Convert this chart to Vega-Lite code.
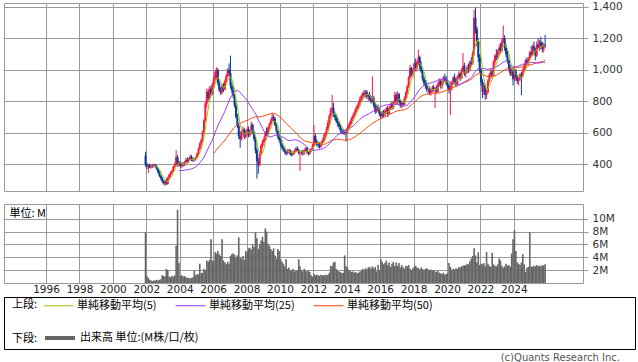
{
"$schema": "https://vega.github.io/schema/vega-lite/v6.json",
"background": "white",
"padding": {"left": 3, "top": 1, "right": 0, "bottom": 0},
"config": {
 "view": {"stroke": "#999999", "strokeWidth": 1},
 "axis": {"gridColor": "#999999", "gridWidth": 1, "gridOpacity": 1, "tickColor": "#999999", "tickOpacity": 1, "labelColor": "#333333", "labelFont": "DejaVu Sans", "labelFontSize": 10.5}
},
"datasets": {"m": [
{"d":"2001-12-15","o":455,"h":480,"l":385,"c":400,"v":7.9},
{"d":"2002-01-15","o":400,"h":410,"l":370,"c":385,"v":1.1},
{"d":"2002-02-15","o":385,"h":400,"l":345,"c":395,"v":0.8},
{"d":"2002-03-15","o":395,"h":405,"l":375,"c":380,"v":0.5},
{"d":"2002-04-15","o":380,"h":400,"l":372,"c":392,"v":0.4},
{"d":"2002-05-15","o":392,"h":400,"l":378,"c":385,"v":0.3},
{"d":"2002-06-15","o":385,"h":405,"l":380,"c":398,"v":0.4},
{"d":"2002-07-15","o":398,"h":402,"l":380,"c":388,"v":0.4},
{"d":"2002-08-15","o":388,"h":395,"l":365,"c":372,"v":0.5},
{"d":"2002-09-15","o":372,"h":378,"l":340,"c":350,"v":0.4},
{"d":"2002-10-15","o":350,"h":358,"l":318,"c":328,"v":0.5},
{"d":"2002-11-15","o":328,"h":335,"l":300,"c":312,"v":0.6},
{"d":"2002-12-15","o":312,"h":320,"l":280,"c":292,"v":1.2},
{"d":"2003-01-15","o":292,"h":300,"l":270,"c":280,"v":1.1},
{"d":"2003-02-15","o":280,"h":300,"l":262,"c":295,"v":1.0},
{"d":"2003-03-15","o":295,"h":310,"l":268,"c":275,"v":2.2},
{"d":"2003-04-15","o":275,"h":320,"l":270,"c":315,"v":2.0},
{"d":"2003-05-15","o":315,"h":340,"l":305,"c":332,"v":1.0},
{"d":"2003-06-15","o":332,"h":355,"l":320,"c":348,"v":0.9},
{"d":"2003-07-15","o":348,"h":365,"l":335,"c":358,"v":1.1},
{"d":"2003-08-15","o":358,"h":390,"l":350,"c":385,"v":1.0},
{"d":"2003-09-15","o":385,"h":410,"l":378,"c":400,"v":1.2},
{"d":"2003-10-15","o":400,"h":490,"l":390,"c":445,"v":5.8},
{"d":"2003-11-15","o":445,"h":460,"l":385,"c":400,"v":11.4},
{"d":"2003-12-15","o":400,"h":425,"l":385,"c":415,"v":3.1},
{"d":"2004-01-15","o":415,"h":420,"l":380,"c":390,"v":1.1},
{"d":"2004-02-15","o":390,"h":405,"l":375,"c":398,"v":1.2},
{"d":"2004-03-15","o":398,"h":415,"l":385,"c":392,"v":1.0},
{"d":"2004-04-15","o":392,"h":420,"l":388,"c":412,"v":1.1},
{"d":"2004-05-15","o":412,"h":440,"l":405,"c":428,"v":0.9},
{"d":"2004-06-15","o":428,"h":445,"l":405,"c":418,"v":0.8},
{"d":"2004-07-15","o":418,"h":440,"l":410,"c":435,"v":0.8},
{"d":"2004-08-15","o":435,"h":462,"l":425,"c":448,"v":0.7},
{"d":"2004-09-15","o":448,"h":458,"l":420,"c":430,"v":0.8},
{"d":"2004-10-15","o":430,"h":445,"l":415,"c":425,"v":0.9},
{"d":"2004-11-15","o":425,"h":440,"l":418,"c":432,"v":1.9},
{"d":"2004-12-15","o":432,"h":450,"l":425,"c":442,"v":1.2},
{"d":"2005-01-15","o":442,"h":475,"l":435,"c":468,"v":1.4},
{"d":"2005-02-15","o":468,"h":505,"l":460,"c":498,"v":1.3},
{"d":"2005-03-15","o":498,"h":540,"l":490,"c":530,"v":3.0},
{"d":"2005-04-15","o":530,"h":565,"l":505,"c":552,"v":1.5},
{"d":"2005-05-15","o":552,"h":615,"l":540,"c":605,"v":1.6},
{"d":"2005-06-15","o":605,"h":690,"l":595,"c":680,"v":2.2},
{"d":"2005-07-15","o":680,"h":800,"l":670,"c":785,"v":2.0},
{"d":"2005-08-15","o":785,"h":880,"l":760,"c":860,"v":3.5},
{"d":"2005-09-15","o":860,"h":875,"l":800,"c":820,"v":3.3},
{"d":"2005-10-15","o":820,"h":895,"l":810,"c":880,"v":3.6},
{"d":"2005-11-15","o":880,"h":900,"l":830,"c":845,"v":6.8},
{"d":"2005-12-15","o":845,"h":920,"l":840,"c":905,"v":3.5},
{"d":"2006-01-15","o":905,"h":960,"l":890,"c":945,"v":3.4},
{"d":"2006-02-15","o":945,"h":1000,"l":930,"c":985,"v":4.8},
{"d":"2006-03-15","o":985,"h":1015,"l":940,"c":1000,"v":4.6},
{"d":"2006-04-15","o":1000,"h":1010,"l":900,"c":915,"v":5.0},
{"d":"2006-05-15","o":915,"h":930,"l":860,"c":870,"v":4.5},
{"d":"2006-06-15","o":870,"h":890,"l":840,"c":855,"v":4.2},
{"d":"2006-07-15","o":855,"h":910,"l":845,"c":900,"v":6.8},
{"d":"2006-08-15","o":900,"h":915,"l":860,"c":875,"v":3.5},
{"d":"2006-09-15","o":875,"h":940,"l":870,"c":930,"v":3.2},
{"d":"2006-10-15","o":930,"h":975,"l":920,"c":960,"v":2.9},
{"d":"2006-11-15","o":960,"h":1010,"l":950,"c":1000,"v":3.3},
{"d":"2006-12-15","o":1000,"h":1040,"l":960,"c":980,"v":3.0},
{"d":"2007-01-15","o":980,"h":1090,"l":880,"c":900,"v":4.2},
{"d":"2007-02-15","o":900,"h":920,"l":850,"c":870,"v":4.5},
{"d":"2007-03-15","o":870,"h":890,"l":820,"c":835,"v":4.6},
{"d":"2007-04-15","o":835,"h":845,"l":760,"c":775,"v":4.4},
{"d":"2007-05-15","o":775,"h":790,"l":690,"c":700,"v":4.0},
{"d":"2007-06-15","o":700,"h":720,"l":630,"c":645,"v":4.3},
{"d":"2007-07-15","o":645,"h":660,"l":560,"c":580,"v":7.1},
{"d":"2007-08-15","o":580,"h":610,"l":505,"c":560,"v":4.0},
{"d":"2007-09-15","o":560,"h":620,"l":550,"c":605,"v":3.8},
{"d":"2007-10-15","o":605,"h":640,"l":585,"c":620,"v":4.2},
{"d":"2007-11-15","o":620,"h":630,"l":560,"c":575,"v":3.6},
{"d":"2007-12-15","o":575,"h":615,"l":565,"c":600,"v":5.0},
{"d":"2008-01-15","o":600,"h":635,"l":590,"c":622,"v":4.8},
{"d":"2008-02-15","o":622,"h":640,"l":570,"c":585,"v":5.4},
{"d":"2008-03-15","o":585,"h":620,"l":575,"c":605,"v":5.5},
{"d":"2008-04-15","o":605,"h":670,"l":600,"c":650,"v":5.2},
{"d":"2008-05-15","o":650,"h":660,"l":590,"c":605,"v":6.0},
{"d":"2008-06-15","o":605,"h":615,"l":545,"c":560,"v":5.6},
{"d":"2008-07-15","o":560,"h":575,"l":470,"c":490,"v":7.9},
{"d":"2008-08-15","o":490,"h":505,"l":310,"c":420,"v":7.0},
{"d":"2008-09-15","o":420,"h":440,"l":340,"c":395,"v":5.3},
{"d":"2008-10-15","o":395,"h":480,"l":385,"c":470,"v":6.0},
{"d":"2008-11-15","o":470,"h":530,"l":455,"c":520,"v":6.6},
{"d":"2008-12-15","o":520,"h":555,"l":505,"c":540,"v":7.2},
{"d":"2009-01-15","o":540,"h":575,"l":520,"c":560,"v":6.4},
{"d":"2009-02-15","o":560,"h":610,"l":550,"c":600,"v":8.5},
{"d":"2009-03-15","o":600,"h":635,"l":580,"c":590,"v":8.0},
{"d":"2009-04-15","o":590,"h":640,"l":585,"c":630,"v":6.1},
{"d":"2009-05-15","o":630,"h":665,"l":620,"c":655,"v":5.8},
{"d":"2009-06-15","o":655,"h":690,"l":645,"c":680,"v":5.3},
{"d":"2009-07-15","o":680,"h":728,"l":670,"c":700,"v":5.0},
{"d":"2009-08-15","o":700,"h":715,"l":670,"c":690,"v":5.4},
{"d":"2009-09-15","o":690,"h":700,"l":640,"c":650,"v":4.3},
{"d":"2009-10-15","o":650,"h":660,"l":600,"c":610,"v":3.8},
{"d":"2009-11-15","o":610,"h":620,"l":560,"c":575,"v":5.3},
{"d":"2009-12-15","o":575,"h":590,"l":540,"c":555,"v":5.0},
{"d":"2010-01-15","o":555,"h":565,"l":515,"c":525,"v":3.7},
{"d":"2010-02-15","o":525,"h":535,"l":495,"c":505,"v":3.3},
{"d":"2010-03-15","o":505,"h":515,"l":480,"c":490,"v":3.0},
{"d":"2010-04-15","o":490,"h":505,"l":465,"c":478,"v":2.6},
{"d":"2010-05-15","o":478,"h":490,"l":455,"c":468,"v":3.7},
{"d":"2010-06-15","o":468,"h":495,"l":462,"c":485,"v":2.2},
{"d":"2010-07-15","o":485,"h":500,"l":470,"c":490,"v":2.4},
{"d":"2010-08-15","o":490,"h":495,"l":455,"c":465,"v":2.0},
{"d":"2010-09-15","o":465,"h":480,"l":450,"c":460,"v":1.9},
{"d":"2010-10-15","o":460,"h":485,"l":455,"c":475,"v":2.2},
{"d":"2010-11-15","o":475,"h":495,"l":465,"c":485,"v":1.8},
{"d":"2010-12-15","o":485,"h":510,"l":478,"c":500,"v":2.0},
{"d":"2011-01-15","o":500,"h":515,"l":482,"c":490,"v":1.9},
{"d":"2011-02-15","o":490,"h":500,"l":462,"c":470,"v":3.7},
{"d":"2011-03-15","o":470,"h":482,"l":358,"c":475,"v":2.6},
{"d":"2011-04-15","o":475,"h":490,"l":460,"c":480,"v":2.0},
{"d":"2011-05-15","o":480,"h":490,"l":455,"c":468,"v":1.8},
{"d":"2011-06-15","o":468,"h":495,"l":460,"c":490,"v":2.2},
{"d":"2011-07-15","o":490,"h":510,"l":480,"c":502,"v":1.9},
{"d":"2011-08-15","o":502,"h":508,"l":465,"c":478,"v":1.8},
{"d":"2011-09-15","o":478,"h":485,"l":455,"c":468,"v":2.0},
{"d":"2011-10-15","o":468,"h":495,"l":460,"c":490,"v":1.7},
{"d":"2011-11-15","o":490,"h":505,"l":478,"c":495,"v":1.2},
{"d":"2011-12-15","o":495,"h":530,"l":488,"c":520,"v":1.0},
{"d":"2012-01-15","o":520,"h":650,"l":515,"c":580,"v":1.4},
{"d":"2012-02-15","o":580,"h":595,"l":535,"c":545,"v":1.2},
{"d":"2012-03-15","o":545,"h":560,"l":515,"c":528,"v":1.3},
{"d":"2012-04-15","o":528,"h":545,"l":505,"c":520,"v":1.2},
{"d":"2012-05-15","o":520,"h":540,"l":500,"c":512,"v":1.1},
{"d":"2012-06-15","o":512,"h":545,"l":505,"c":535,"v":1.3},
{"d":"2012-07-15","o":535,"h":560,"l":525,"c":550,"v":1.2},
{"d":"2012-08-15","o":550,"h":590,"l":540,"c":575,"v":1.2},
{"d":"2012-09-15","o":575,"h":605,"l":560,"c":595,"v":1.3},
{"d":"2012-10-15","o":595,"h":640,"l":585,"c":625,"v":1.2},
{"d":"2012-11-15","o":625,"h":680,"l":615,"c":665,"v":1.3},
{"d":"2012-12-15","o":665,"h":720,"l":650,"c":705,"v":1.6},
{"d":"2013-01-15","o":705,"h":760,"l":690,"c":745,"v":2.7},
{"d":"2013-02-15","o":745,"h":840,"l":730,"c":760,"v":2.6},
{"d":"2013-03-15","o":760,"h":790,"l":700,"c":715,"v":3.2},
{"d":"2013-04-15","o":715,"h":735,"l":680,"c":700,"v":3.3},
{"d":"2013-05-15","o":700,"h":720,"l":660,"c":675,"v":2.2},
{"d":"2013-06-15","o":675,"h":690,"l":640,"c":660,"v":1.9},
{"d":"2013-07-15","o":660,"h":670,"l":625,"c":640,"v":1.8},
{"d":"2013-08-15","o":640,"h":650,"l":600,"c":615,"v":1.7},
{"d":"2013-09-15","o":615,"h":630,"l":590,"c":610,"v":1.5},
{"d":"2013-10-15","o":610,"h":625,"l":590,"c":600,"v":1.6},
{"d":"2013-11-15","o":600,"h":620,"l":585,"c":610,"v":4.3},
{"d":"2013-12-15","o":610,"h":625,"l":545,"c":600,"v":2.6},
{"d":"2014-01-15","o":600,"h":640,"l":595,"c":630,"v":2.4},
{"d":"2014-02-15","o":630,"h":660,"l":620,"c":650,"v":2.0},
{"d":"2014-03-15","o":650,"h":680,"l":640,"c":670,"v":1.9},
{"d":"2014-04-15","o":670,"h":700,"l":655,"c":690,"v":1.7},
{"d":"2014-05-15","o":690,"h":720,"l":675,"c":710,"v":1.8},
{"d":"2014-06-15","o":710,"h":740,"l":700,"c":730,"v":1.6},
{"d":"2014-07-15","o":730,"h":760,"l":715,"c":750,"v":1.7},
{"d":"2014-08-15","o":750,"h":780,"l":735,"c":770,"v":1.5},
{"d":"2014-09-15","o":770,"h":800,"l":755,"c":790,"v":1.6},
{"d":"2014-10-15","o":790,"h":830,"l":770,"c":815,"v":1.8},
{"d":"2014-11-15","o":815,"h":845,"l":800,"c":835,"v":1.9},
{"d":"2014-12-15","o":835,"h":860,"l":810,"c":850,"v":2.2},
{"d":"2015-01-15","o":850,"h":873,"l":820,"c":840,"v":2.0},
{"d":"2015-02-15","o":840,"h":870,"l":825,"c":860,"v":2.3},
{"d":"2015-03-15","o":860,"h":872,"l":815,"c":830,"v":2.1},
{"d":"2015-04-15","o":830,"h":850,"l":800,"c":840,"v":2.4},
{"d":"2015-05-15","o":840,"h":860,"l":805,"c":815,"v":2.5},
{"d":"2015-06-15","o":815,"h":835,"l":785,"c":800,"v":2.2},
{"d":"2015-07-15","o":800,"h":958,"l":790,"c":820,"v":2.6},
{"d":"2015-08-15","o":820,"h":835,"l":760,"c":775,"v":2.3},
{"d":"2015-09-15","o":775,"h":790,"l":720,"c":735,"v":2.5},
{"d":"2015-10-15","o":735,"h":775,"l":725,"c":765,"v":1.8},
{"d":"2015-11-15","o":765,"h":780,"l":735,"c":745,"v":2.8},
{"d":"2015-12-15","o":745,"h":760,"l":705,"c":720,"v":2.0},
{"d":"2016-01-15","o":720,"h":735,"l":690,"c":705,"v":3.7},
{"d":"2016-02-15","o":705,"h":740,"l":695,"c":730,"v":3.3},
{"d":"2016-03-15","o":730,"h":745,"l":700,"c":715,"v":2.9},
{"d":"2016-04-15","o":715,"h":750,"l":705,"c":740,"v":3.1},
{"d":"2016-05-15","o":740,"h":765,"l":720,"c":755,"v":3.5},
{"d":"2016-06-15","o":755,"h":770,"l":700,"c":720,"v":2.8},
{"d":"2016-07-15","o":720,"h":770,"l":715,"c":760,"v":3.2},
{"d":"2016-08-15","o":760,"h":790,"l":745,"c":780,"v":2.5},
{"d":"2016-09-15","o":780,"h":800,"l":745,"c":760,"v":3.0},
{"d":"2016-10-15","o":760,"h":800,"l":750,"c":790,"v":3.3},
{"d":"2016-11-15","o":790,"h":860,"l":780,"c":840,"v":2.6},
{"d":"2016-12-15","o":840,"h":855,"l":780,"c":795,"v":3.2},
{"d":"2017-01-15","o":795,"h":862,"l":780,"c":845,"v":2.7},
{"d":"2017-02-15","o":845,"h":855,"l":790,"c":800,"v":3.1},
{"d":"2017-03-15","o":800,"h":815,"l":760,"c":775,"v":2.4},
{"d":"2017-04-15","o":775,"h":800,"l":755,"c":790,"v":2.8},
{"d":"2017-05-15","o":790,"h":805,"l":765,"c":780,"v":2.5},
{"d":"2017-06-15","o":780,"h":830,"l":775,"c":820,"v":2.2},
{"d":"2017-07-15","o":820,"h":865,"l":810,"c":855,"v":2.7},
{"d":"2017-08-15","o":855,"h":905,"l":845,"c":895,"v":2.6},
{"d":"2017-09-15","o":895,"h":960,"l":885,"c":950,"v":2.8},
{"d":"2017-10-15","o":950,"h":1032,"l":940,"c":1010,"v":2.2},
{"d":"2017-11-15","o":1010,"h":1020,"l":960,"c":975,"v":2.0},
{"d":"2017-12-15","o":975,"h":1010,"l":950,"c":1000,"v":2.3},
{"d":"2018-01-15","o":1000,"h":1050,"l":985,"c":1040,"v":2.5},
{"d":"2018-02-15","o":1040,"h":1070,"l":990,"c":1010,"v":2.7},
{"d":"2018-03-15","o":1010,"h":1060,"l":990,"c":1050,"v":2.4},
{"d":"2018-04-15","o":1050,"h":1127,"l":1030,"c":1080,"v":2.3},
{"d":"2018-05-15","o":1080,"h":1090,"l":1000,"c":1020,"v":2.1},
{"d":"2018-06-15","o":1020,"h":1053,"l":980,"c":990,"v":2.4},
{"d":"2018-07-15","o":990,"h":1000,"l":930,"c":945,"v":2.2},
{"d":"2018-08-15","o":945,"h":960,"l":900,"c":915,"v":2.0},
{"d":"2018-09-15","o":915,"h":935,"l":880,"c":900,"v":2.2},
{"d":"2018-10-15","o":900,"h":920,"l":860,"c":875,"v":2.3},
{"d":"2018-11-15","o":875,"h":890,"l":845,"c":880,"v":2.1},
{"d":"2018-12-15","o":880,"h":895,"l":841,"c":855,"v":2.0},
{"d":"2019-01-15","o":855,"h":880,"l":835,"c":870,"v":2.1},
{"d":"2019-02-15","o":870,"h":900,"l":855,"c":890,"v":1.9},
{"d":"2019-03-15","o":890,"h":905,"l":860,"c":875,"v":2.0},
{"d":"2019-04-15","o":875,"h":890,"l":757,"c":880,"v":1.8},
{"d":"2019-05-15","o":880,"h":900,"l":850,"c":860,"v":1.7},
{"d":"2019-06-15","o":860,"h":920,"l":855,"c":910,"v":1.9},
{"d":"2019-07-15","o":910,"h":945,"l":895,"c":930,"v":1.6},
{"d":"2019-08-15","o":930,"h":940,"l":880,"c":895,"v":1.5},
{"d":"2019-09-15","o":895,"h":930,"l":880,"c":920,"v":1.4},
{"d":"2019-10-15","o":920,"h":960,"l":905,"c":950,"v":1.6},
{"d":"2019-11-15","o":950,"h":975,"l":925,"c":940,"v":1.3},
{"d":"2019-12-15","o":940,"h":960,"l":900,"c":915,"v":1.4},
{"d":"2020-01-15","o":915,"h":935,"l":880,"c":900,"v":1.5},
{"d":"2020-02-15","o":900,"h":910,"l":850,"c":870,"v":3.1},
{"d":"2020-03-15","o":870,"h":920,"l":714,"c":890,"v":2.5},
{"d":"2020-04-15","o":890,"h":930,"l":870,"c":920,"v":2.0},
{"d":"2020-05-15","o":920,"h":960,"l":905,"c":950,"v":2.2},
{"d":"2020-06-15","o":950,"h":975,"l":915,"c":930,"v":2.1},
{"d":"2020-07-15","o":930,"h":950,"l":890,"c":910,"v":2.3},
{"d":"2020-08-15","o":910,"h":965,"l":905,"c":955,"v":2.2},
{"d":"2020-09-15","o":955,"h":990,"l":940,"c":975,"v":2.5},
{"d":"2020-10-15","o":975,"h":985,"l":930,"c":945,"v":2.4},
{"d":"2020-11-15","o":945,"h":1010,"l":940,"c":1000,"v":2.6},
{"d":"2020-12-15","o":1000,"h":1106,"l":985,"c":1025,"v":2.7},
{"d":"2021-01-15","o":1025,"h":1045,"l":960,"c":975,"v":2.8},
{"d":"2021-02-15","o":975,"h":1000,"l":950,"c":990,"v":2.7},
{"d":"2021-03-15","o":990,"h":1030,"l":975,"c":1015,"v":3.0},
{"d":"2021-04-15","o":1015,"h":1040,"l":980,"c":1000,"v":2.9},
{"d":"2021-05-15","o":1000,"h":1060,"l":990,"c":1050,"v":3.4},
{"d":"2021-06-15","o":1050,"h":1080,"l":1020,"c":1040,"v":3.8},
{"d":"2021-07-15","o":1040,"h":1120,"l":1030,"c":1100,"v":4.2},
{"d":"2021-08-15","o":1100,"h":1380,"l":1090,"c":1330,"v":5.4},
{"d":"2021-09-15","o":1330,"h":1396,"l":1230,"c":1260,"v":4.3},
{"d":"2021-10-15","o":1260,"h":1275,"l":1150,"c":1180,"v":3.2},
{"d":"2021-11-15","o":1180,"h":1200,"l":1050,"c":1080,"v":4.8},
{"d":"2021-12-15","o":1080,"h":1100,"l":980,"c":1000,"v":2.8},
{"d":"2022-01-15","o":1000,"h":1010,"l":900,"c":920,"v":3.0},
{"d":"2022-02-15","o":920,"h":940,"l":820,"c":860,"v":2.9},
{"d":"2022-03-15","o":860,"h":920,"l":840,"c":900,"v":3.1},
{"d":"2022-04-15","o":900,"h":910,"l":810,"c":840,"v":2.6},
{"d":"2022-05-15","o":840,"h":870,"l":815,"c":860,"v":4.8},
{"d":"2022-06-15","o":860,"h":940,"l":850,"c":930,"v":3.0},
{"d":"2022-07-15","o":930,"h":980,"l":920,"c":970,"v":2.7},
{"d":"2022-08-15","o":970,"h":1010,"l":950,"c":990,"v":2.5},
{"d":"2022-09-15","o":990,"h":1000,"l":940,"c":960,"v":4.7},
{"d":"2022-10-15","o":960,"h":1060,"l":955,"c":1050,"v":2.9},
{"d":"2022-11-15","o":1050,"h":1100,"l":1030,"c":1090,"v":2.7},
{"d":"2022-12-15","o":1090,"h":1130,"l":1060,"c":1080,"v":2.6},
{"d":"2023-01-15","o":1080,"h":1130,"l":1070,"c":1120,"v":2.9},
{"d":"2023-02-15","o":1120,"h":1160,"l":1090,"c":1140,"v":3.8},
{"d":"2023-03-15","o":1140,"h":1170,"l":1100,"c":1120,"v":3.5},
{"d":"2023-04-15","o":1120,"h":1200,"l":1110,"c":1180,"v":2.7},
{"d":"2023-05-15","o":1180,"h":1281,"l":1170,"c":1200,"v":2.4},
{"d":"2023-06-15","o":1200,"h":1220,"l":1120,"c":1140,"v":2.6},
{"d":"2023-07-15","o":1140,"h":1160,"l":1080,"c":1100,"v":3.0},
{"d":"2023-08-15","o":1100,"h":1120,"l":1040,"c":1060,"v":2.7},
{"d":"2023-09-15","o":1060,"h":1070,"l":990,"c":1010,"v":2.8},
{"d":"2023-10-15","o":1010,"h":1030,"l":960,"c":975,"v":2.5},
{"d":"2023-11-15","o":975,"h":1010,"l":960,"c":1000,"v":4.6},
{"d":"2023-12-15","o":1000,"h":1020,"l":900,"c":940,"v":6.8},
{"d":"2024-01-15","o":940,"h":1000,"l":930,"c":990,"v":8.2},
{"d":"2024-02-15","o":990,"h":1005,"l":930,"c":950,"v":5.0},
{"d":"2024-03-15","o":950,"h":970,"l":910,"c":930,"v":3.2},
{"d":"2024-04-15","o":930,"h":960,"l":900,"c":945,"v":3.0},
{"d":"2024-05-15","o":945,"h":980,"l":930,"c":970,"v":2.8},
{"d":"2024-06-15","o":970,"h":985,"l":840,"c":960,"v":3.2},
{"d":"2024-07-15","o":960,"h":1010,"l":950,"c":1000,"v":4.5},
{"d":"2024-08-15","o":1000,"h":1040,"l":990,"c":1030,"v":2.9},
{"d":"2024-09-15","o":1030,"h":1070,"l":1000,"c":1060,"v":1.7},
{"d":"2024-10-15","o":1060,"h":1080,"l":1030,"c":1045,"v":2.4},
{"d":"2024-11-15","o":1045,"h":1080,"l":1030,"c":1070,"v":2.5},
{"d":"2024-12-15","o":1070,"h":1120,"l":1060,"c":1110,"v":7.9},
{"d":"2025-01-15","o":1110,"h":1150,"l":1080,"c":1095,"v":2.6},
{"d":"2025-02-15","o":1095,"h":1160,"l":1090,"c":1150,"v":2.5},
{"d":"2025-03-15","o":1150,"h":1180,"l":1110,"c":1130,"v":2.7},
{"d":"2025-04-15","o":1130,"h":1140,"l":1060,"c":1090,"v":2.6},
{"d":"2025-05-15","o":1090,"h":1180,"l":1080,"c":1160,"v":2.8},
{"d":"2025-06-15","o":1160,"h":1200,"l":1130,"c":1140,"v":2.6},
{"d":"2025-07-15","o":1140,"h":1190,"l":1120,"c":1175,"v":2.7},
{"d":"2025-08-15","o":1175,"h":1210,"l":1130,"c":1150,"v":2.6},
{"d":"2025-09-15","o":1150,"h":1180,"l":1110,"c":1130,"v":2.8},
{"d":"2025-10-15","o":1130,"h":1170,"l":1110,"c":1160,"v":2.7},
{"d":"2025-11-15","o":1160,"h":1222,"l":1140,"c":1150,"v":2.9}
]},
"resolve": {"scale": {"color": "independent"}, "legend": {"color": "independent"}},
"spacing": 1,
"vconcat": [
 {"spacing": 11, "vconcat": [
  {
   "width": 579, "height": 188,
   "data": {"name": "m"},
   "encoding": {"x": {"field": "d", "type": "temporal",
     "scale": {"domain": [{"year": 1993, "month": 10, "date": 13}, {"year": 2027, "month": 11, "date": 4}]},
     "axis": {"values": [{"year":1996},{"year":1998},{"year":2000},{"year":2002},{"year":2004},{"year":2006},{"year":2008},{"year":2010},{"year":2012},{"year":2014},{"year":2016},{"year":2018},{"year":2020},{"year":2022},{"year":2024}], "grid": true, "labels": false, "ticks": false, "domain": false, "title": null}}},
   "layer": [
    {"mark": {"type": "rule", "strokeWidth": 1},
     "encoding": {
      "y": {"field": "l", "type": "quantitative", "scale": {"domain": [230.5, 1424], "nice": false, "zero": false},
        "axis": {"orient": "right", "values": [400, 600, 800, 1000, 1200, 1400], "labelExpr": "format(datum.value, ',')", "labelOverlap": false, "grid": true, "domain": false, "ticks": true, "tickSize": 5, "labelPadding": 4, "title": null}},
      "y2": {"field": "h"},
      "color": {"condition": {"test": "datum.c >= datum.o", "value": "#ff1744"}, "value": "#0d3b9e"}}},
    {"mark": {"type": "bar", "size": 2},
     "encoding": {
      "y": {"field": "o", "type": "quantitative",
        "axis": {"orient": "right", "values": [400, 600, 800, 1000, 1200, 1400], "labelExpr": "format(datum.value, ',')", "labelOverlap": false, "grid": true, "domain": false, "ticks": true, "tickSize": 5, "labelPadding": 4, "title": null}},
      "y2": {"field": "c"},
      "color": {"condition": {"test": "datum.c >= datum.o", "value": "#ff1744"}, "value": "#0d3b9e"}}},
    {"transform": [{"window": [{"op": "mean", "field": "c", "as": "ma"}, {"op": "count", "field": "c", "as": "n"}], "frame": [-49, 0], "sort": [{"field": "d"}]}, {"filter": "datum.n >= 50"}],
     "mark": {"type": "line", "color": "#ff4000", "strokeWidth": 1},
     "encoding": {"y": {"field": "ma", "type": "quantitative",
        "axis": {"orient": "right", "values": [400, 600, 800, 1000, 1200, 1400], "labelExpr": "format(datum.value, ',')", "labelOverlap": false, "grid": true, "domain": false, "ticks": true, "tickSize": 5, "labelPadding": 4, "title": null}}}},
    {"transform": [{"window": [{"op": "mean", "field": "c", "as": "ma"}, {"op": "count", "field": "c", "as": "n"}], "frame": [-24, 0], "sort": [{"field": "d"}]}, {"filter": "datum.n >= 25"}],
     "mark": {"type": "line", "color": "#9933ff", "strokeWidth": 1},
     "encoding": {"y": {"field": "ma", "type": "quantitative",
        "axis": {"orient": "right", "values": [400, 600, 800, 1000, 1200, 1400], "labelExpr": "format(datum.value, ',')", "labelOverlap": false, "grid": true, "domain": false, "ticks": true, "tickSize": 5, "labelPadding": 4, "title": null}}}},
    {"transform": [{"window": [{"op": "mean", "field": "c", "as": "ma"}, {"op": "count", "field": "c", "as": "n"}], "frame": [-4, 0], "sort": [{"field": "d"}]}, {"filter": "datum.n >= 5"}],
     "mark": {"type": "line", "color": "#99cc00", "strokeWidth": 1},
     "encoding": {"y": {"field": "ma", "type": "quantitative",
        "axis": {"orient": "right", "values": [400, 600, 800, 1000, 1200, 1400], "labelExpr": "format(datum.value, ',')", "labelOverlap": false, "grid": true, "domain": false, "ticks": true, "tickSize": 5, "labelPadding": 4, "title": null}}}}
   ]
  },
  {
   "width": 579, "height": 79,
   "data": {"name": "m"},
   "mark": {"type": "bar", "size": 1.6, "color": "#666666"},
   "encoding": {
    "x": {"field": "d", "type": "temporal",
     "scale": {"domain": [{"year": 1993, "month": 10, "date": 13}, {"year": 2027, "month": 11, "date": 4}]},
     "axis": {"values": [{"year":1996},{"year":1998},{"year":2000},{"year":2002},{"year":2004},{"year":2006},{"year":2008},{"year":2010},{"year":2012},{"year":2014},{"year":2016},{"year":2018},{"year":2020},{"year":2022},{"year":2024}], "format": "%Y", "grid": true, "ticks": false, "domain": false, "labelPadding": 1, "labelFlush": false, "labelOverlap": false, "labelColor": "#222222", "title": null}},
    "y": {"field": "v", "type": "quantitative", "scale": {"domain": [0, 12.3], "nice": false},
     "axis": {"orient": "right", "values": [2, 4, 6, 8, 10], "labelExpr": "datum.value + 'M'", "grid": true, "domain": false, "ticks": true, "tickSize": 5, "labelPadding": 4,
       "title": "単位: M", "titleAngle": 0, "titleX": -574, "titleY": 3, "titleAlign": "left", "titleBaseline": "top", "titleFont": "Noto Sans CJK JP", "titleFontSize": 11, "titleFontWeight": "normal", "titleColor": "#000000"}}
   }
  }
 ]},
 {
  "width": 631, "height": 52,
  "data": {"name": "m"},
  "view": {"stroke": "#000000", "strokeWidth": 1},
  "title": {"text": "(c)Quants Research Inc.", "orient": "bottom", "anchor": "end", "offset": 4, "dx": -15, "font": "DejaVu Sans", "fontSize": 10, "fontWeight": "normal", "color": "#555555"},
  "layer": [
   {"layer": [
    {"mark": {"type": "point", "opacity": 0},
     "encoding": {"color": {"datum": "単純移動平均(5)", "type": "nominal",
       "scale": {"domain": ["単純移動平均(5)", "単純移動平均(25)", "単純移動平均(50)"], "range": ["#99cc00", "#9933ff", "#ff4000"]},
       "legend": {"title": "上段:", "orient": "none", "legendX": 8, "legendY": 3, "direction": "horizontal", "titleOrient": "left", "titleAnchor": "middle", "titleBaseline": "middle", "titleFont": "Noto Sans CJK JP", "titleFontSize": 11, "titleFontWeight": "normal", "titleColor": "#000000", "titlePadding": 15, "labelFont": "Noto Sans CJK JP", "labelFontSize": 11, "labelColor": "#000000", "labelOffset": 13, "symbolType": "M-3,0H3", "symbolSize": 100, "symbolStrokeWidth": 1, "symbolOpacity": 1, "columnPadding": 16, "padding": 0}}}},
    {"mark": {"type": "point", "opacity": 0},
     "encoding": {"color": {"datum": "単純移動平均(25)", "type": "nominal"}}},
    {"mark": {"type": "point", "opacity": 0},
     "encoding": {"color": {"datum": "単純移動平均(50)", "type": "nominal"}}}
   ]},
   {"mark": {"type": "point", "opacity": 0},
    "encoding": {"color": {"datum": "出来高 単位:(M株/口/枚)", "type": "nominal",
      "scale": {"range": ["#666666"]},
      "legend": {"title": "下段:", "orient": "none", "legendX": 8, "legendY": 34, "direction": "horizontal", "titleOrient": "left", "titleAnchor": "middle", "titleBaseline": "middle", "titleFont": "Noto Sans CJK JP", "titleFontSize": 11, "titleFontWeight": "normal", "titleColor": "#000000", "titlePadding": 15, "labelFont": "Noto Sans CJK JP", "labelFontSize": 11, "labelColor": "#000000", "labelOffset": 13, "symbolType": "M-3,0H3", "symbolSize": 100, "symbolStrokeWidth": 4, "symbolOpacity": 1, "padding": 0}}}}
  ],
  "resolve": {"scale": {"color": "independent"}}
 }
]
}
